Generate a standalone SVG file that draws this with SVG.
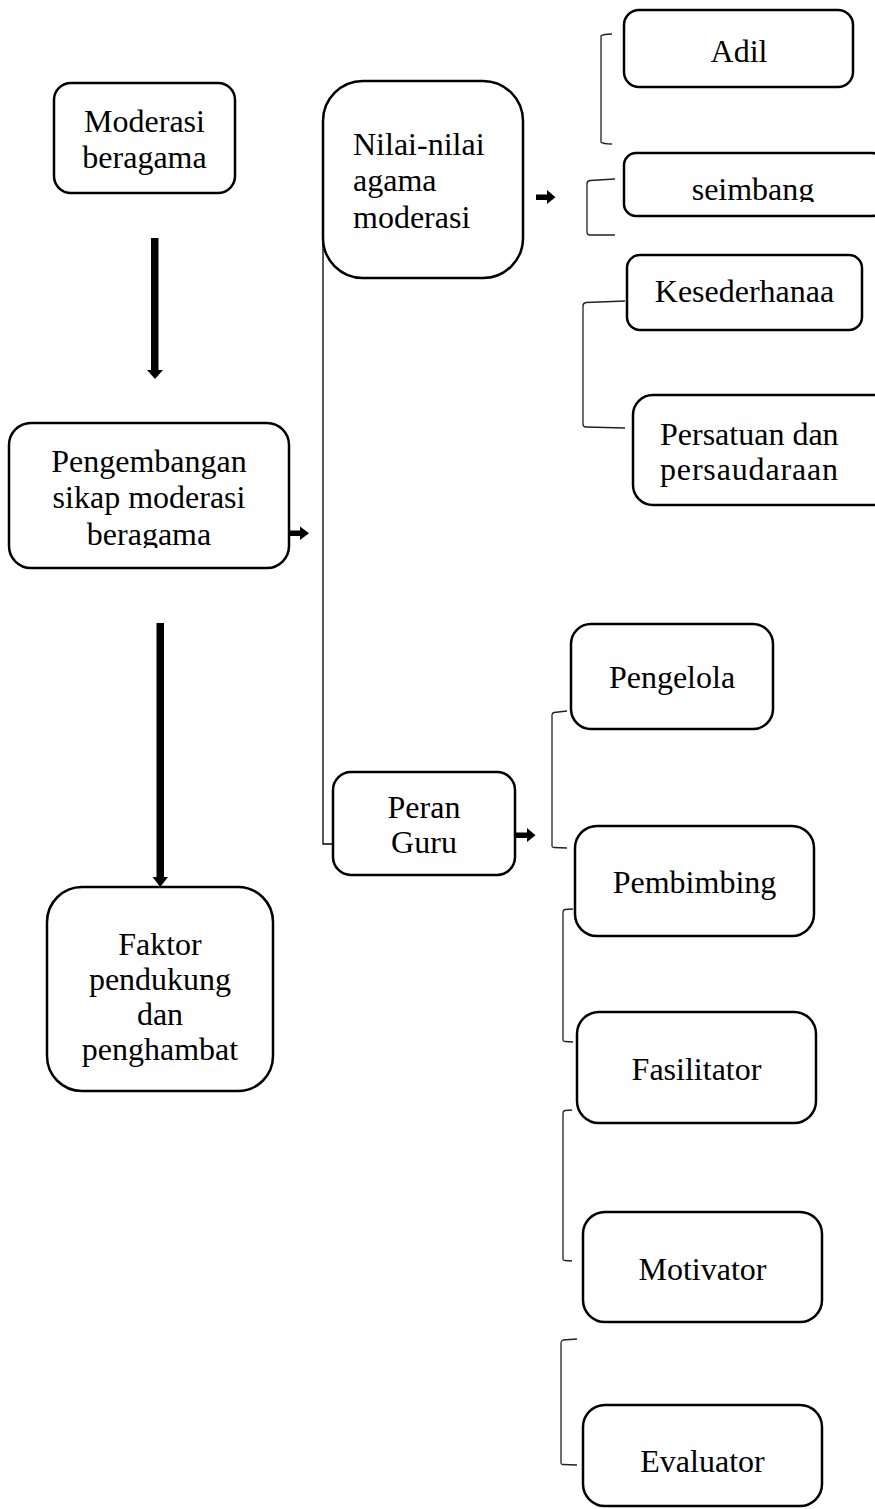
<svg xmlns="http://www.w3.org/2000/svg" width="875" height="1509" viewBox="0 0 875 1509">
<style>
.box{fill:#fff;stroke:#000;stroke-width:2.5}
.t{font-family:"Liberation Serif","Times New Roman",serif;font-size:32px;fill:#000;text-anchor:middle}
.l{text-anchor:start}
.br{fill:none;stroke:#222;stroke-width:1.3}
.thin{fill:none;stroke:#000;stroke-width:1.3}
.ar{fill:#000}
</style>
<defs>
<clipPath id="clipSeimbang"><rect x="600" y="150" width="300" height="52"/></clipPath>
<clipPath id="clipPeng"><rect x="0" y="420" width="300" height="128"/></clipPath>
</defs>
<rect width="875" height="1509" fill="#fff"/>
<g id="connectors">
<path class="thin" d="M323 238 L323 844 L335 844"/>
<rect class="ar" x="151" y="238" width="7.5" height="133"/>
<polygon class="ar" points="147,370 163,370 155,379"/>
<rect class="ar" x="156.5" y="623" width="7.5" height="255"/>
<polygon class="ar" points="152.5,877 168,877 160.25,887"/>
<rect class="ar" x="289" y="530.5" width="12" height="5.5"/>
<polygon class="ar" points="300,526.5 309,533.25 300,540"/>
<rect class="ar" x="536" y="194.5" width="12" height="5.5"/>
<polygon class="ar" points="547,190 555.5,197.25 547,204"/>
<rect class="ar" x="516" y="832.5" width="12" height="5.5"/>
<polygon class="ar" points="527,828 535.5,835.25 527,842"/>
<path class="br" d="M612 34 Q603 34 601 36 L601 142 Q603 144 612 144"/>
<path class="br" d="M615 179 L590 180.5 Q587 181 587 184 L587 232 Q587 235 590 235 L615 235"/>
<path class="br" d="M625 301 L586 302.5 Q583 303 583 306 L583 424 Q583 427 586 427 L625 428"/>
<path class="br" d="M567 711 L554 712.5 Q552 713 552 715 L552 846 Q552 847.5 554 847.5 L567 848"/>
<path class="br" d="M573 909 L565 909.5 Q563 910 563 912 L563 1040 Q563 1041.5 565 1041.5 L573 1042"/>
<path class="br" d="M572 1110 L565 1110.5 Q563 1111 563 1113 L563 1259 Q563 1260.5 565 1260.5 L572 1261"/>
<path class="br" d="M577 1339 L563 1340 Q561 1341 561 1343 L561 1463 Q561 1464.5 563 1464.5 L577 1465"/>
</g>
<g id="n-moderasi">
<rect class="box" x="54" y="83" width="181" height="110" rx="17"/>
<text class="t" x="144.5" y="132">Moderasi</text>
<text class="t" x="144.5" y="168">beragama</text>
</g>
<g id="n-nilai">
<rect class="box" x="323" y="81" width="200" height="197" rx="40"/>
<text class="t l" x="353" y="155">Nilai-nilai</text>
<text class="t l" x="353" y="191">agama</text>
<text class="t l" x="353" y="228">moderasi</text>
</g>
<g id="n-adil">
<rect class="box" x="624" y="10" width="229" height="77" rx="15"/>
<text class="t" x="739" y="62">Adil</text>
</g>
<g id="n-seimbang">
<rect class="box" x="624" y="153" width="260" height="63" rx="12"/>
<text class="t" x="753" y="200" clip-path="url(#clipSeimbang)">seimbang</text>
</g>
<g id="n-kesederhanaa">
<rect class="box" x="627" y="255" width="235" height="75" rx="13"/>
<text class="t" x="744.5" y="302">Kesederhanaa</text>
</g>
<g id="n-persatuan">
<rect class="box" x="633" y="395" width="260" height="110" rx="20"/>
<text class="t l" x="660" y="445">Persatuan dan</text>
<text class="t l" x="660" y="480" textLength="178" lengthAdjust="spacing">persaudaraan</text>
</g>
<g id="n-pengembangan">
<rect class="box" x="9" y="423" width="280" height="145" rx="22"/>
<text class="t" x="149" y="472">Pengembangan</text>
<text class="t" x="149" y="508">sikap moderasi</text>
<text class="t" x="149" y="545" clip-path="url(#clipPeng)">beragama</text>
</g>
<g id="n-faktor">
<rect class="box" x="47" y="887" width="226" height="204" rx="35"/>
<text class="t" x="160" y="955">Faktor</text>
<text class="t" x="160" y="990">pendukung</text>
<text class="t" x="160" y="1025">dan</text>
<text class="t" x="160" y="1060">penghambat</text>
</g>
<g id="n-pengelola">
<rect class="box" x="571" y="624" width="202" height="105" rx="20"/>
<text class="t" x="672" y="688">Pengelola</text>
</g>
<g id="n-peran">
<rect class="box" x="333" y="772" width="182" height="103" rx="18"/>
<text class="t" x="424" y="818">Peran</text>
<text class="t" x="424" y="853">Guru</text>
</g>
<g id="n-pembimbing">
<rect class="box" x="575" y="826" width="239" height="110" rx="22"/>
<text class="t" x="694.5" y="893">Pembimbing</text>
</g>
<g id="n-fasilitator">
<rect class="box" x="577" y="1012" width="239" height="111" rx="22"/>
<text class="t" x="696.5" y="1080">Fasilitator</text>
</g>
<g id="n-motivator">
<rect class="box" x="583" y="1212" width="239" height="110" rx="22"/>
<text class="t" x="702.5" y="1280">Motivator</text>
</g>
<g id="n-evaluator">
<rect class="box" x="583" y="1405" width="239" height="101" rx="22"/>
<text class="t" x="702.5" y="1472">Evaluator</text>
</g>
</svg>
